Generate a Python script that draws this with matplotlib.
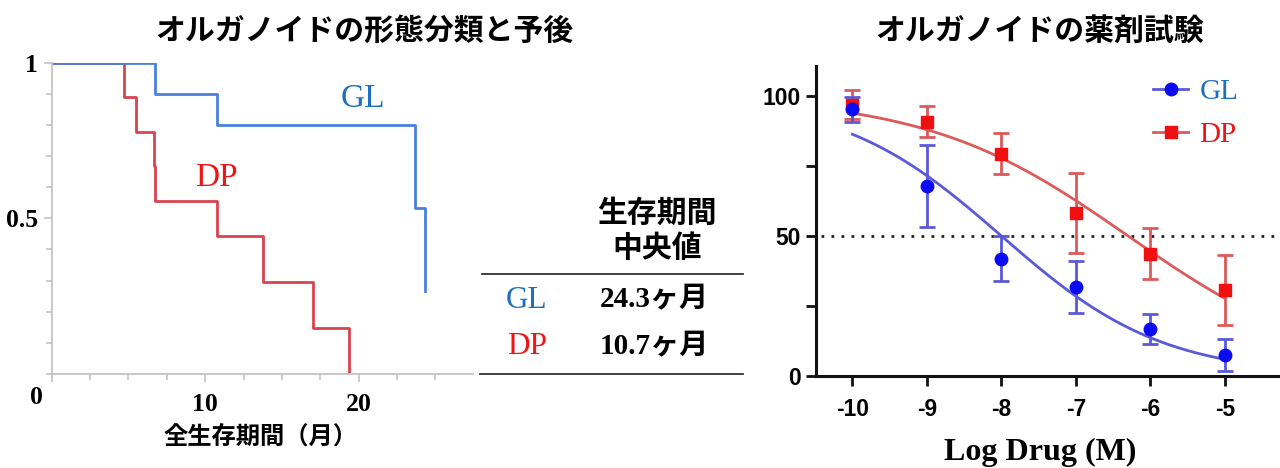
import numpy as np
import matplotlib
matplotlib.use("Agg")
import matplotlib.pyplot as plt
from matplotlib.lines import Line2D

plt.rcParams['font.family'] = ['Noto Sans CJK JP', 'DejaVu Sans']
plt.rcParams['axes.unicode_minus'] = False

# --- Kaplan-Meier (左) ---
gl_time = [0, 6.75, 10.75, 23.7, 24.35]
gl_surv = [1.0, 0.9, 0.8, 0.533, 0.267]
dp_time = [0, 4.7, 5.5, 6.65, 6.75, 10.75, 13.75, 17.0, 19.35]
dp_surv = [1.0, 0.889, 0.778, 0.667, 0.556, 0.444, 0.296, 0.148, 0.0]

# --- 表 ---
table_groups = ['GL', 'DP']
table_median = ['24.3ヶ月', '10.7ヶ月']

# --- 薬剤試験 (右) ---
log_dose = [-10, -9, -8, -7, -6, -5]
gl_resp = [95.2, 67.9, 41.9, 31.7, 16.7, 7.5]
gl_err = [4.5, 14.7, 8.0, 9.2, 5.4, 5.7]
dp_resp = [96.8, 90.8, 79.3, 58.3, 43.6, 30.7]
dp_err = [5.2, 5.5, 7.3, 14.2, 9.1, 12.6]
# 4PL fit parameters (top, bottom, logIC50, hill)
gl_fit = (100, 0, -8.0, 0.4)
dp_fit = (100, 0, -6.3, 0.32)

BLUE_KM = '#4a80dc'
RED_KM = '#d8434e'
BLUE_TXT = '#1f6fbf'
RED_TXT = '#f01414'
BLUE_MK = '#0a0af5'
RED_MK = '#f01010'
BLUE_LN = '#5a5ad8'
RED_LN = '#dc5a5a'
GRAY = '#c4c4c4'
W, H = 1280, 468

fig = plt.figure(figsize=(12.8, 4.68), dpi=100)


def fx(px):
    return px / W


def fy(py):
    return 1 - py / H


# 左: 生存曲線
ax = fig.add_axes([fx(51.7), fy(374), fx(473 - 51.7), (374 - 62.7) / H])
ax.step(dp_time, dp_surv, where='post', color=RED_KM, lw=2)
ax.step(gl_time, gl_surv, where='post', color=BLUE_KM, lw=2)
ax.set_xlim(0, 27.45)
ax.set_ylim(0, 1)
for s in ['top', 'right']:
    ax.spines[s].set_visible(False)
for s in ['left', 'bottom']:
    ax.spines[s].set_color(GRAY)
    ax.spines[s].set_linewidth(1.3)
ax.set_xticks([0, 10, 20])
ax.set_xticks(np.arange(0, 25.1, 2.5), minor=True)
ax.set_yticks([0.5, 1])
ax.set_yticks(np.arange(0, 1.01, 0.1), minor=True)
ax.tick_params(which='both', color=GRAY, width=1.2)
ax.tick_params(which='major', length=6)
ax.tick_params(which='minor', length=4)
ax.set_xticklabels(['', '10', '20'], family='Liberation Serif',
                   fontweight='bold', fontsize=18.5)
ax.set_yticklabels(['0.5', '1'], family='Liberation Serif',
                   fontweight='bold', fontsize=18.5)
ax.tick_params(axis='x', pad=8)
ax.tick_params(axis='y', pad=4)
fig.text(fx(36), fy(397), '0', family='Liberation Serif', fontweight='bold',
         fontsize=18.5, ha='center', va='center')
ax.text(20.3, 0.885, 'GL', color=BLUE_TXT, family='Liberation Serif',
        fontsize=24, ha='center', va='center')
ax.text(10.76, 0.63, 'DP', color=RED_TXT, family='Liberation Serif',
        fontsize=24, ha='center', va='center')
fig.text(fx(261), fy(437), '全生存期間（月）', fontsize=17.5, fontweight='bold',
         ha='center', va='center')
fig.text(fx(364), fy(31), 'オルガノイドの形態分類と予後', fontsize=21.5,
         fontweight='bold', ha='center', va='center')

# 表
fig.add_artist(Line2D([fx(482), fx(743)], [fy(274), fy(274)], color='#333333', lw=1.3))
fig.add_artist(Line2D([fx(480), fx(743)], [fy(374), fy(374)], color='#333333', lw=1.3))
fig.text(fx(657), fy(213), '生存期間', fontsize=21.5, fontweight='bold',
         ha='center', va='center')
fig.text(fx(657), fy(248), '中央値', fontsize=21.5, fontweight='bold',
         ha='center', va='center')
row_y = [300, 347]
grp_colors = [BLUE_TXT, RED_TXT]
for g, m, yy, c in zip(table_groups, table_median, row_y, grp_colors):
    fig.text(fx(527), fy(yy), g, color=c, family='Liberation Serif',
             fontsize=22.5, ha='center', va='center')
    fig.text(fx(654), fy(yy), m, family=['Liberation Serif', 'Noto Sans CJK JP'],
             fontweight='bold', fontsize=21, ha='center', va='center')

# 右: 用量反応曲線
ax2 = fig.add_axes([fx(816), fy(376), fx(1280 - 816), (376 - 66) / H])


def four_pl(x, p):
    top, bottom, x50, h = p
    return bottom + (top - bottom) / (1 + 10 ** ((x - x50) * h))


xs = np.linspace(log_dose[0], log_dose[-1], 200)
ax2.axhline(50, xmin=0.01, xmax=1, color='#222222', lw=2, ls=(0, (1, 2.6)))
ax2.plot(xs, four_pl(xs, dp_fit), color=RED_LN, lw=2)
ax2.plot(xs, four_pl(xs, gl_fit), color=BLUE_LN, lw=2)
ax2.errorbar(log_dose, dp_resp, yerr=dp_err, fmt='s', color=RED_MK,
             ecolor=RED_LN, elinewidth=2, capsize=6, capthick=2, ms=8)
ax2.errorbar(log_dose, gl_resp, yerr=gl_err, fmt='o', color=BLUE_MK,
             ecolor=BLUE_LN, elinewidth=2, capsize=6, capthick=2, ms=9)
ax2.set_xlim(-10.49, -4.26)
ax2.set_ylim(0, 110.7)
for s in ['top', 'right']:
    ax2.spines[s].set_visible(False)
for s in ['left', 'bottom']:
    ax2.spines[s].set_linewidth(2.2)
    ax2.spines[s].set_color('#111111')
ax2.set_xticks(log_dose)
ax2.set_yticks([0, 50, 100])
ax2.set_yticks([25, 75], minor=True)
ax2.tick_params(which='both', direction='out', length=7, width=2, color='#111111')
for lab in ax2.get_xticklabels() + ax2.get_yticklabels():
    lab.set_family('Liberation Sans')
    lab.set_fontweight('bold')
    lab.set_fontsize(16.5)
ax2.tick_params(axis='x', pad=9)
ax2.tick_params(axis='y', pad=4)
fig.text(fx(1040), fy(452), 'Log Drug (M)', family='Liberation Serif',
         fontweight='bold', fontsize=23, ha='center', va='center')
fig.text(fx(1040), fy(31), 'オルガノイドの薬剤試験', fontsize=21.5,
         fontweight='bold', ha='center', va='center')

handles = [Line2D([], [], color=BLUE_LN, lw=2, marker='o', ms=9,
                  mfc=BLUE_MK, mec=BLUE_MK),
           Line2D([], [], color=RED_LN, lw=2, marker='s', ms=8,
                  mfc=RED_MK, mec=RED_MK)]
leg = fig.legend(handles, table_groups, loc='upper left',
                 bbox_to_anchor=(fx(1153), fy(79)), frameon=False,
                 prop={'family': 'Liberation Serif', 'size': 21},
                 handlelength=1.2, handletextpad=0.4, labelspacing=0.55,
                 borderpad=0, borderaxespad=0)
for t, c in zip(leg.get_texts(), grp_colors):
    t.set_color(c)

fig.savefig('out.png', dpi=100)
